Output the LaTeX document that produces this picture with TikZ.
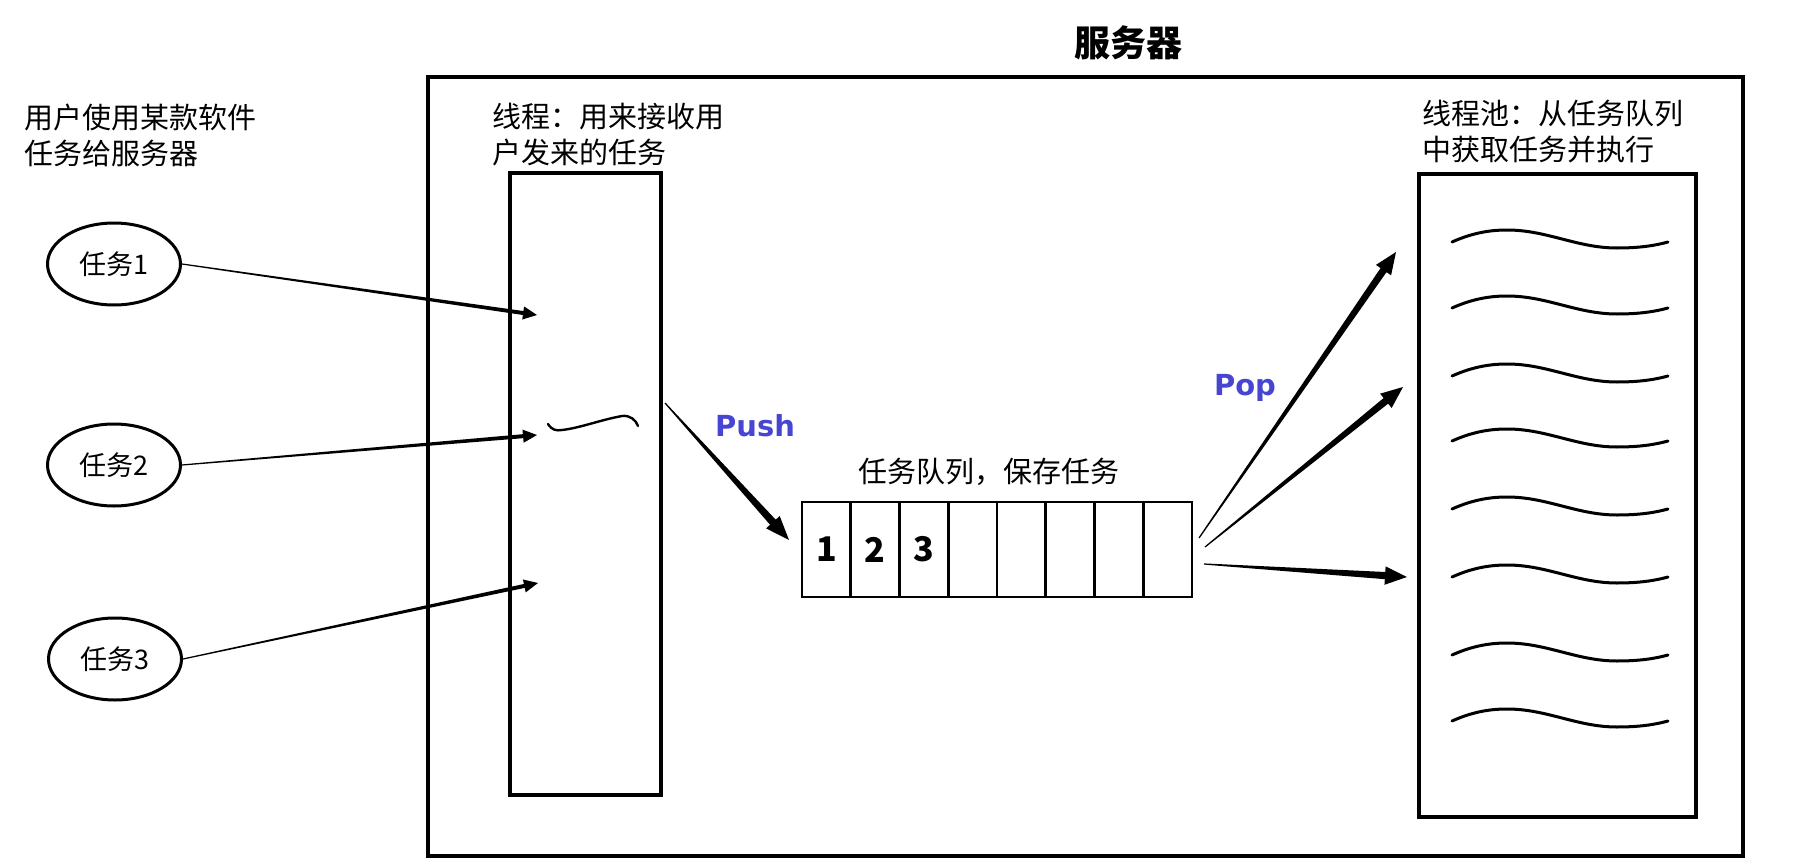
\documentclass[tikz,border=0pt]{standalone}
\usepackage{fontspec}
\setmainfont{Noto Sans CJK SC}
\newfontfamily\latfont{DejaVu Sans}
\usetikzlibrary{calc,shapes.geometric}
\definecolor{popblue}{RGB}{70,70,210}
\newcommand{\taparrow}[6]{%
  \coordinate (tpC) at ($(#2)!#5!(#1)$);
  \fill ($(#1)!#3!90:(#2)$) -- ($(tpC)!#4!90:(#2)$) -- ($(tpC)!#6!90:(#2)$) -- (#2)
    -- ($(tpC)!#6!-90:(#2)$) -- ($(tpC)!#4!-90:(#2)$) -- ($(#1)!#3!-90:(#2)$) -- cycle;
}
\newcommand{\poolwave}[2]{%
  \draw[wavy, shift={(#1,#2)}] (0,12) .. controls (18,4) and (35,0) .. (55,0)
    .. controls (95,0) and (125,18) .. (165,18) .. controls (190,18) and (205,15) .. (216,12);
}
\begin{document}
\begin{tikzpicture}[x=0.5pt,y=-0.5pt,
  boxnode/.style={draw, line width=1.8pt, inner sep=0pt},
  cellnode/.style={draw, line width=1.4pt, inner sep=0pt, minimum width=24.375pt, minimum height=47.5pt, font=\bfseries\fontsize{17}{20}\selectfont},
  tasknode/.style={draw, ellipse, line width=1.5pt, inner sep=0pt, minimum width=66.5pt, minimum height=41pt, font=\fontsize{13.5}{15}\selectfont},
  lbl/.style={inner sep=0pt, align=left, anchor=west, font=\fontsize{14.5}{18}\selectfont},
  oplbl/.style={inner sep=0pt, text=popblue, font=\latfont\bfseries\fontsize{14.5}{17}\selectfont},
  wavy/.style={line width=1.5pt, line cap=round}]
\useasboundingbox (0,0) rectangle (1796,867);

% title and outer box
\node[inner sep=0pt, font=\bfseries\fontsize{18}{20}\selectfont] (title) at (1128,43) {服务器};
\node[boxnode, minimum width=657.5pt, minimum height=389.5pt] (server) at (1085.5,466.5) {};

% left text and tasks
\node[lbl] (usertxt) at (24,135) {用户使用某款软件\\任务给服务器};
\node[tasknode] (e1) at (114,264) {任务1};
\node[tasknode] (e2) at (114,465) {任务2};
\node[tasknode] (e3) at (115,659) {任务3};

% thread box
\node[lbl] (threadtxt) at (492,135) {线程：用来接收用\\户发来的任务};
\node[boxnode, minimum width=75.5pt, minimum height=311pt] (thread) at (585.5,484) {};
\draw[wavy, line width=1.2pt] (548,424) .. controls (552,430) and (556,431) .. (562,430)
  .. controls (580,428) and (600,420) .. (622,416) .. controls (630,415) and (636,420) .. (638,426);

% task arrows
\coordinate (t1) at (537,315);
\coordinate (t2) at (537,435);
\coordinate (t3) at (538,583);
\taparrow{e1.east}{t1}{0.3pt}{1.0pt}{7pt}{3.3pt}
\taparrow{e2.east}{t2}{0.3pt}{1.0pt}{7pt}{3.3pt}
\taparrow{e3.east}{t3}{0.3pt}{1.0pt}{7pt}{3.3pt}

% queue
\node[inner sep=0pt, font=\fontsize{14.5}{17}\selectfont] (qtxt) at (989,472) {任务队列，保存任务};
\foreach \i/\t in {1/1,2/2,3/3,4/,5/,6/,7/,8/} {
  \node[cellnode] (q\i) at ({802+48.75*(\i-0.5)},549.5) {\t};
}

% push
\coordinate (ps) at (665,403);
\coordinate (pe) at (789,540);
\taparrow{ps}{pe}{0.3pt}{1.9pt}{12pt}{4.6pt}
\node[oplbl] (push) at (755,426) {Push};

% pool
\node[lbl] (pooltxt) at (1422,132) {线程池：从任务队列\\中获取任务并执行};
\node[boxnode, minimum width=138.5pt, minimum height=321.5pt] (pool) at (1557.5,495.5) {};
\foreach \yy in {230,296,364,429,497,565,643,709} {
  \poolwave{1452}{\yy}
}

% pop arrows
\coordinate (p1s) at (1199,538);
\coordinate (p1e) at (1396,252);
\coordinate (p2s) at (1205,547);
\coordinate (p2e) at (1403,387);
\coordinate (p3s) at (1204,564);
\coordinate (p3e) at (1407,577);
\taparrow{p1s}{p1e}{0.3pt}{1.8pt}{11pt}{4.6pt}
\taparrow{p2s}{p2e}{0.3pt}{1.8pt}{11pt}{4.6pt}
\taparrow{p3s}{p3e}{0.3pt}{1.8pt}{11pt}{4.6pt}
\node[oplbl] (pop) at (1245,388) {Pop};
\end{tikzpicture}
\end{document}
